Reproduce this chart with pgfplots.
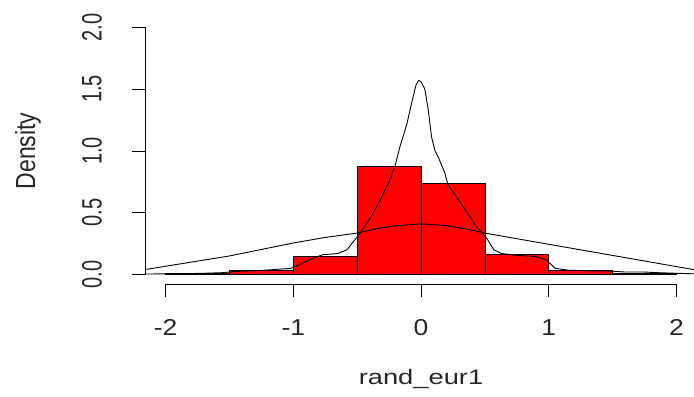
\documentclass[border=0pt]{standalone}
\usepackage{pgfplots}
\pgfplotsset{compat=1.18}
\usepackage{fontspec}
\setmainfont{Liberation Sans}
\newcommand\xs[1]{\scalebox{1.15}[1]{#1}}
\newcommand\ys[1]{\scalebox{1}[1.4]{#1}}
\begin{document}
\begin{tikzpicture}
\useasboundingbox (-145bp,-112.6bp) rectangle (549bp,284.4bp);
\begin{axis}[
  at={(0,0)}, anchor=south west,
  scale only axis, width=552bp, height=267bp,
  xmin=-2.161, xmax=2.161, ymin=-0.08, ymax=2.08,
  axis x line*=bottom, axis y line*=left,
  axis line style={draw=none},
  clip=false,
  tick align=outside,
  major tick length=13bp,
  every tick/.style={black, line width=0.8bp},
  xtick={-2,-1,0,1,2}, xticklabels={\xs{-2},\xs{-1},\xs{0},\xs{1},\xs{2}},
  ytick={0,0.5,1,1.5,2}, yticklabels={\ys{0.0},\ys{0.5},\ys{1.0},\ys{1.5},\ys{2.0}},
  xticklabel style={font=\fontsize{23bp}{27bp}\selectfont, text=black!85, anchor=center, yshift=-30bp},
  yticklabel style={font=\fontsize{20bp}{24bp}\selectfont, text=black!85, rotate=90, anchor=center, yshift=40bp},
  xlabel={\scalebox{1.3}[1]{rand\_eur1}}, ylabel={\scalebox{1}[1.2]{Density}},
  every axis x label/.style={at={(axis cs:0,-0.08)}, anchor=center, yshift=-95bp, font=\fontsize{21bp}{25bp}\selectfont, text=black!85},
  every axis y label/.style={at={(axis cs:-2.161,1)}, anchor=center, rotate=90, yshift=117bp, font=\fontsize{23bp}{27bp}\selectfont, text=black!85},
]
\addplot[ybar interval, fill=red, draw=black, line width=0.7bp] coordinates {
(-2,0.006) (-1.5,0.032) (-1,0.146) (-0.5,0.875) (0,0.735) (0.5,0.165) (1,0.036) (1.5,0.012) (2,0.012)};
% normal curve
\addplot[black, line width=0.9bp, sharp plot] coordinates {
(-2.161,0.04) (-1.5,0.15) (-1,0.255) (-0.75,0.3) (-0.5,0.335) (-0.35,0.37) (-0.2,0.395) (0,0.41) (0.2,0.395) (0.35,0.37) (0.5,0.335) (2.161,0.035)};
% kernel density
\addplot[black, line width=0.9bp, sharp plot] coordinates {
(-2.161,0.004) (-1.9,0.006) (-1.7,0.01) (-1.55,0.015) (-1.45,0.025) (-1.3,0.03) (-1.15,0.04) (-1.02,0.05) (-0.95,0.08) (-0.85,0.13) (-0.77,0.16) (-0.65,0.17) (-0.58,0.2) (-0.48,0.33) (-0.4,0.45) (-0.32,0.6) (-0.25,0.75) (-0.205,0.87) (-0.166,1.03) (-0.11,1.22) (-0.075,1.38) (-0.04,1.53) (-0.02,1.57) (0.0,1.56) (0.03,1.5) (0.057,1.33) (0.083,1.11) (0.11,1.0) (0.135,0.95) (0.187,0.82) (0.21,0.73) (0.27,0.64) (0.33,0.55) (0.44,0.38) (0.51,0.30) (0.57,0.2) (0.63,0.17) (0.75,0.155) (0.9,0.145) (0.98,0.12) (1.05,0.05) (1.15,0.035) (1.3,0.03) (1.45,0.03) (1.6,0.02) (1.75,0.02) (1.85,0.015) (2.0,0.01) (2.161,0.005)};
\draw[black, line width=0.8bp] (axis cs:-2,-0.08) -- (axis cs:2,-0.08);
\draw[black, line width=0.8bp] (axis cs:-2.161,0) -- (axis cs:-2.161,2);
\end{axis}
\end{tikzpicture}
\end{document}
